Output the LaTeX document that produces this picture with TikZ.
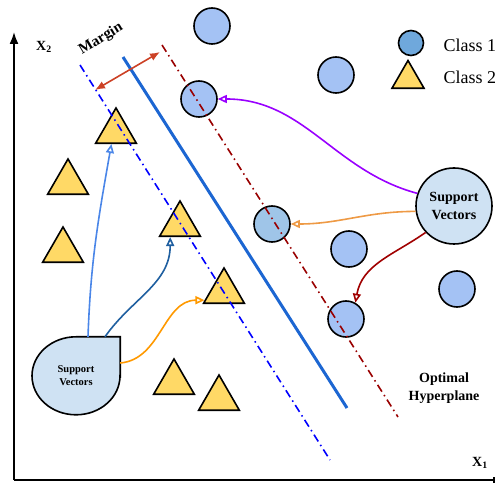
\documentclass[tikz,border=0pt]{standalone}
\usepackage{fontspec}
\setmainfont{Liberation Serif}[BoldFont={Liberation Serif Bold}]
\usetikzlibrary{arrows.meta, shapes.geometric, backgrounds}
\definecolor{PointBlue}{HTML}{A4C2F4}
\definecolor{PointBlueDark}{HTML}{9FC5E8}
\definecolor{LegendBlue}{HTML}{6FA8DC}
\definecolor{PointYellow}{HTML}{FFD966}
\definecolor{SVFill}{HTML}{CFE2F3}
\definecolor{HyperBlue}{HTML}{1C66D2}
\definecolor{MarginRed}{HTML}{990000}
\definecolor{ArrowRed}{HTML}{CC4125}
\definecolor{LinkPurple}{HTML}{9900FF}
\definecolor{LinkOrange}{HTML}{EE9A45}
\definecolor{LinkRed}{HTML}{A00000}
\definecolor{LinkLight}{HTML}{4A86E8}
\definecolor{LinkDark}{HTML}{1F5FA0}
\definecolor{LinkAmber}{HTML}{FF9900}

\begin{document}
\begin{tikzpicture}[
    x=1pt, y=1pt,
    pt1/.style={circle, draw=black, line width=1.6pt, fill=PointBlue,
        minimum size=36pt, inner sep=0pt},
    pt2/.style={regular polygon, regular polygon sides=3, draw=black,
        line width=1.6pt, fill=PointYellow, minimum size=47pt, inner sep=0pt},
    link/.style={-{Triangle[open, length=9pt, width=8pt]}, line width=1.6pt},
    bound/.style={line width=1.6pt, dash pattern=on 8pt off 4pt on 1.5pt off 4pt},
    axis/.style={line width=1.8pt},
    lbl/.style={font=\fontsize{14}{18}\selectfont\bfseries, align=center},
]
\useasboundingbox (0,0) rectangle (496,488);

% axes
\coordinate (o) at (14,8);
\coordinate (ytop) at (14,456);
\coordinate (xend) at (495,8);
\draw[axis, -{Latex[length=12pt, width=9pt]}] (o) -- (ytop);
\draw[axis, -{Bar[width=6pt]}] (o) -- (xend);
\node[lbl] (x2) at (44,441) {X\textsubscript{2}};
\node[lbl] (x1) at (480,25) {X\textsubscript{1}};

% class 1
\foreach \n/\x/\y in {c1/212/462, c2/336/413, c3/199/389, c5/349/239,
                      c6/346/169, c7/457/199}
    \node[pt1] (\n) at (\x,\y) {};
\node[pt1, fill=PointBlueDark] (c4) at (272,264) {};

% class 2
\foreach \n/\x/\y in {t1/116/356.5, t2/68/305.5, t3/63/237.5, t4/180/263.5,
                      t5/224/196.5, t6/174/105.5, t7/219/89.5}
    \node[pt2] (\n) at (\x,\y) {};

% hyperplane and margins
\coordinate (hp1) at (123,431);
\coordinate (hp2) at (347,80);
\coordinate (lm1) at (80,423);
\coordinate (lm2) at (330,28);
\coordinate (rm1) at (162,443);
\coordinate (rm2) at (398,71);
\draw[HyperBlue, line width=3pt] (hp1) -- (hp2);
\draw[bound, blue] (lm1) -- (lm2);
\draw[bound, MarginRed] (rm1) -- (rm2);

% margin
\coordinate (ma) at (95,398);
\coordinate (mb) at (160,436);
\draw[{Latex[length=10pt, width=8pt]}-{Latex[length=10pt, width=8pt]},
      ArrowRed, line width=1.6pt] (ma) -- (mb);
\node[lbl, font=\fontsize{15}{18}\selectfont\bfseries, rotate=31] (margin)
    at (101,449) {Margin};

% support vectors
\node[circle, draw=black, line width=1.6pt, fill=SVFill, minimum size=76pt,
      inner sep=0pt, lbl] (sv) at (454,282) {Support\\Vectors};

\node[minimum width=88pt, minimum height=78pt, inner sep=0pt, align=center,
      font=\fontsize{10.5}{13}\selectfont\bfseries] (svl) at (76,112)
    {Support\\Vectors};
\begin{scope}[on background layer]
\draw[line width=1.6pt, fill=SVFill] (svl.east) -- (svl.north east) -- (svl.north)
    arc[start angle=90, end angle=360, x radius=44, y radius=39] -- cycle;
\end{scope}

\draw[link, LinkPurple] (sv.161) to[out=165, in=0] (c3.east);
\draw[link, LinkOrange] (sv.188) to[out=180, in=0] (c4.east);
\draw[link, LinkRed] (sv.223) to[out=215, in=80] (c6.60);
\draw[link, LinkLight] ([xshift=12pt]svl.north) to[out=88, in=-100] (t1.250);
\draw[link, LinkDark] ([xshift=29pt]svl.north) to[out=55, in=-90] (t4.232);
\draw[link, LinkAmber] ([yshift=13pt]svl.east) to[out=5, in=180] (t5.204);

% legend
\node[pt1, fill=LegendBlue, minimum size=25pt] (lg1) at (411,445) {};
\node[pt2, minimum size=37pt] (lg2) at (408,409) {};
\node[anchor=west, font=\fontsize{18}{20}\selectfont] (lt1) at (440,443) {Class 1};
\node[anchor=west, font=\fontsize{18}{20}\selectfont] (lt2) at (440,411) {Class 2};

\node[lbl] (hp) at (444,100) {Optimal\\Hyperplane};

\end{tikzpicture}
\end{document}
